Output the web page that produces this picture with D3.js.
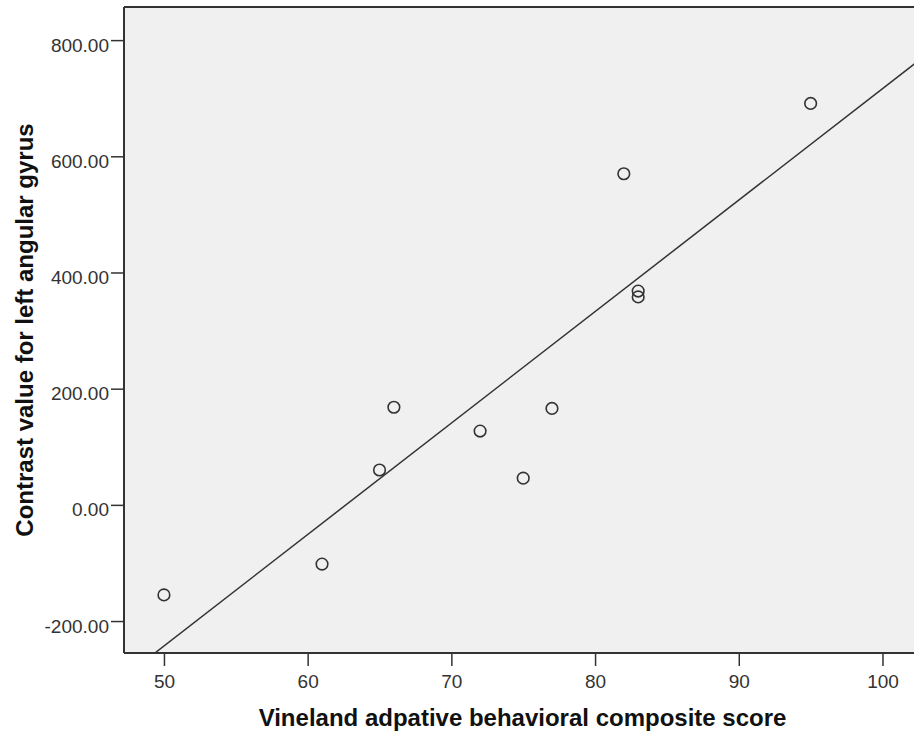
<!DOCTYPE html>
<html>
<head>
<meta charset="utf-8">
<script src="https://cdn.jsdelivr.net/npm/d3@7"></script>
<style>
  html, body { margin: 0; padding: 0; background: #ffffff; }
  svg { display: block; }
</style>
</head>
<body>
<svg id="chart" width="914" height="736"></svg>
<script>
// Vineland composite score vs. contrast value (left angular gyrus)
const vinelandScores = [50, 61, 65, 66, 72, 75, 77, 82, 83, 83, 95];
const contrastValues = [-155, -102, 60, 168, 127, 46, 166, 570, 368, 358, 691];

const xTicks = [50, 60, 70, 80, 90, 100];
const yTicks = [-200, 0, 200, 400, 600, 800];

const xTitle = "Vineland adpative behavioral composite score";
const yTitle = "Contrast value for left angular gyrus";

const svg = d3.select("#chart");

const plot = { left: 124, top: 7, right: 921, bottom: 653 };

const x = d3.scaleLinear().domain([47.22, 102.68]).range([plot.left, plot.right]);
const y = d3.scaleLinear().domain([-255, 857]).range([plot.bottom, plot.top]);

// plot background
svg.append("rect")
  .attr("x", plot.left).attr("y", plot.top)
  .attr("width", plot.right - plot.left).attr("height", plot.bottom - plot.top)
  .attr("fill", "#f0f0f0");

svg.append("clipPath").attr("id", "plotClip")
  .append("rect")
  .attr("x", plot.left).attr("y", plot.top)
  .attr("width", plot.right - plot.left).attr("height", plot.bottom - plot.top);

// least-squares fit line
const n = vinelandScores.length;
const mx = d3.mean(vinelandScores), my = d3.mean(contrastValues);
let sxy = 0, sxx = 0;
for (let i = 0; i < n; i++) {
  sxy += (vinelandScores[i] - mx) * (contrastValues[i] - my);
  sxx += (vinelandScores[i] - mx) ** 2;
}
const slope = sxy / sxx;
const intercept = my - slope * mx;
const [x0, x1] = x.domain();

svg.append("line")
  .attr("clip-path", "url(#plotClip)")
  .attr("x1", x(x0)).attr("y1", y(intercept + slope * x0))
  .attr("x2", x(x1)).attr("y2", y(intercept + slope * x1))
  .attr("stroke", "#333")
  .attr("stroke-width", 1.5);

// points
svg.append("g").selectAll("circle")
  .data(vinelandScores.map((v, i) => [v, contrastValues[i]]))
  .join("circle")
  .attr("cx", d => x(d[0]))
  .attr("cy", d => y(d[1]))
  .attr("r", 5.8)
  .attr("fill", "none")
  .attr("stroke", "#333")
  .attr("stroke-width", 1.6);

// axes
const fontFamily = "'Liberation Sans', Arial, sans-serif";
const yFormat = d => d.toFixed(2); // plain hyphen for negatives

const xAxis = svg.append("g")
  .attr("transform", `translate(0,${plot.bottom})`)
  .call(d3.axisBottom(x).tickValues(xTicks).tickSize(13).tickPadding(8).tickFormat(d3.format("d")));
xAxis.select(".domain").attr("stroke", "#333").attr("stroke-width", 2)
  .attr("d", `M${plot.left},0H${plot.right}`);
xAxis.selectAll(".tick line").attr("stroke", "#333").attr("stroke-width", 1.5);
xAxis.selectAll(".tick text")
  .attr("font-family", fontFamily).attr("font-size", 19).attr("fill", "#333")
  .attr("dy", null).attr("y", 35);

const yAxis = svg.append("g")
  .attr("transform", `translate(${plot.left},0)`)
  .call(d3.axisLeft(y).tickValues(yTicks).tickSize(13).tickPadding(2).tickFormat(yFormat));
yAxis.select(".domain").attr("stroke", "#333").attr("stroke-width", 2)
  .attr("d", `M0,${plot.top}V${plot.bottom}`);
yAxis.selectAll(".tick line").attr("stroke", "#333").attr("stroke-width", 1.5);
yAxis.selectAll(".tick text")
  .attr("font-family", fontFamily).attr("font-size", 19).attr("fill", "#333")
  .attr("dy", "11px");

// top frame line
svg.append("line")
  .attr("x1", plot.left).attr("y1", plot.top)
  .attr("x2", plot.right).attr("y2", plot.top)
  .attr("stroke", "#333").attr("stroke-width", 2);

// titles
svg.append("text")
  .attr("x", (plot.left + plot.right) / 2)
  .attr("y", 726)
  .attr("text-anchor", "middle")
  .attr("font-family", fontFamily).attr("font-weight", "bold").attr("font-size", 24)
  .attr("fill", "#111")
  .text(xTitle);

svg.append("text")
  .attr("transform", `translate(33,${(plot.top + plot.bottom) / 2}) rotate(-90)`)
  .attr("text-anchor", "middle")
  .attr("font-family", fontFamily).attr("font-weight", "bold").attr("font-size", 24)
  .attr("fill", "#111")
  .text(yTitle);
</script>
</body>
</html>
